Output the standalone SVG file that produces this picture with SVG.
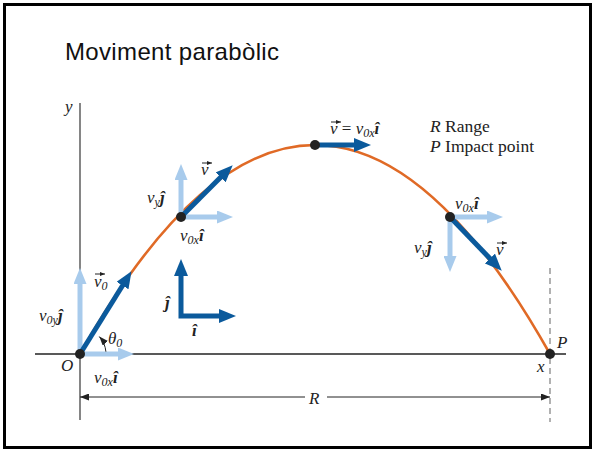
<svg xmlns="http://www.w3.org/2000/svg" width="595" height="451" viewBox="0 0 595 451">
<defs>
<style>
.m{font-family:"Liberation Serif","DejaVu Serif",serif;font-style:italic;font-size:17px;fill:#222}
.s{font-size:12px}
.u{font-style:italic;font-weight:bold}
.r{font-family:"Liberation Serif","DejaVu Serif",serif;font-size:17.5px;fill:#222}
.dk{stroke:#0b5a9c;stroke-width:5;fill:none}
.lt{stroke:#a8cbec;stroke-width:5;fill:none}
.dot{fill:#222}
.acc{stroke:#222;stroke-width:1;fill:none}
</style>
<marker id="hd" markerUnits="userSpaceOnUse" markerWidth="17" markerHeight="14" refX="6" refY="7" orient="auto-start-reverse"><path d="M0,0 L17,7 L0,14 z" fill="#0b5a9c"/></marker>
<marker id="hl" markerUnits="userSpaceOnUse" markerWidth="16" markerHeight="13" refX="6" refY="6.5" orient="auto"><path d="M0,0 L16,6.5 L0,13 z" fill="#a8cbec"/></marker>
<marker id="hb" markerUnits="userSpaceOnUse" markerWidth="9" markerHeight="7" refX="9" refY="3.5" orient="auto-start-reverse"><path d="M0,0 L9,3.5 L0,7 z" fill="#222"/></marker>
<marker id="hs" markerUnits="userSpaceOnUse" markerWidth="5" markerHeight="4" refX="5" refY="2" orient="auto"><path d="M0,0 L5,2 L0,4 z" fill="#222"/></marker>
</defs>
<rect x="4.5" y="4.5" width="586" height="443" fill="#fff" stroke="#000" stroke-width="3"/>
<text x="65" y="60" font-family="Liberation Sans, Arial, sans-serif" font-size="24" textLength="214" fill="#111">Moviment parabòlic</text>

<g id="axes">
<line x1="80" y1="103" x2="80" y2="420" stroke="#444" stroke-width="1.3"/>
<line x1="35" y1="354" x2="566" y2="354" stroke="#222" stroke-width="1.3"/>
<line x1="550" y1="268" x2="550" y2="422" stroke="#888" stroke-width="1.3" stroke-dasharray="6,4"/>
<text class="m" x="65" y="112">y</text>
<text class="m" x="537" y="372">x</text>
<text class="m" x="61" y="371">O</text>
<text class="m" x="557" y="348">P</text>
</g>

<g id="range">
<line x1="80" y1="397" x2="305" y2="397" stroke="#222" stroke-width="1" marker-start="url(#hb)"/>
<line x1="327" y1="397" x2="550" y2="397" stroke="#222" stroke-width="1" marker-end="url(#hb)"/>
<text class="m" x="309" y="404">R</text>
</g>

<g id="trajectory">
<path d="M80,354 Q315,-64 550,354" fill="none" stroke="#e06a26" stroke-width="2.6"/>
</g>

<g id="connectors">
<line class="lt" x1="80" y1="354" x2="80" y2="278" marker-end="url(#hl)"/>
<line class="lt" x1="80" y1="354" x2="124" y2="354" marker-end="url(#hl)"/>
<line class="lt" x1="181" y1="217" x2="181" y2="174" marker-end="url(#hl)"/>
<line class="lt" x1="181" y1="217" x2="223" y2="217" marker-end="url(#hl)"/>
<line class="lt" x1="450" y1="217" x2="493" y2="217" marker-end="url(#hl)"/>
<line class="lt" x1="450" y1="217" x2="450" y2="262" marker-end="url(#hl)"/>
<line class="dk" x1="80" y1="354" x2="125.7" y2="280.5" marker-end="url(#hd)"/>
<line class="dk" x1="181" y1="217" x2="224.9" y2="173.1" marker-end="url(#hd)"/>
<line class="dk" x1="315" y1="145" x2="360" y2="145" marker-end="url(#hd)"/>
<line class="dk" x1="450" y1="217" x2="494.1" y2="262.8" marker-end="url(#hd)"/>
<path d="M105.9,351.7 A26,26 0 0 0 99.3,336.6" fill="none" stroke="#222" stroke-width="1" marker-end="url(#hb)"/>
</g>

<g id="p0">
<circle class="dot" cx="80" cy="354" r="5"/>
<line class="acc" x1="95" y1="274" x2="105" y2="274" marker-end="url(#hs)"/>
<text class="m" x="94" y="287">v<tspan class="s" dy="3">0</tspan></text>
<text class="m" x="39" y="321">v<tspan class="s" dy="3">0y</tspan><tspan class="u" dy="-3">ĵ</tspan></text>
<text class="m" x="108" y="344">θ<tspan class="s" dy="3">0</tspan></text>
<text class="m" x="94" y="383">v<tspan class="s" dy="3">0x</tspan><tspan class="u" dy="-3">î</tspan></text>
</g>

<g id="p1">
<circle class="dot" cx="181" cy="217" r="5"/>
<line class="acc" x1="202" y1="163" x2="212" y2="163" marker-end="url(#hs)"/>
<text class="m" x="201" y="175">v</text>
<text class="m" x="147" y="203">v<tspan class="s" dy="3">y</tspan><tspan class="u" dy="-3">ĵ</tspan></text>
<text class="m" x="180" y="241">v<tspan class="s" dy="3">0x</tspan><tspan class="u" dy="-3">î</tspan></text>
</g>

<g id="apex">
<circle class="dot" cx="315" cy="145" r="5"/>
<line class="acc" x1="331" y1="122" x2="341" y2="122" marker-end="url(#hs)"/>
<text class="m" x="330" y="134">v<tspan font-style="normal"> = </tspan>v<tspan class="s" dy="3">0x</tspan><tspan class="u" dy="-3">î</tspan></text>
</g>

<g id="p3">
<circle class="dot" cx="450" cy="217" r="5"/>
<text class="m" x="455" y="209">v<tspan class="s" dy="3">0x</tspan><tspan class="u" dy="-3">î</tspan></text>
<text class="m" x="414" y="253">v<tspan class="s" dy="3">y</tspan><tspan class="u" dy="-3">ĵ</tspan></text>
<line class="acc" x1="497" y1="243" x2="507" y2="243" marker-end="url(#hs)"/>
<text class="m" x="496" y="255">v</text>
</g>

<g id="impact">
<circle class="dot" cx="550" cy="354" r="5"/>
</g>

<g id="units">
<path class="dk" d="M181,270 L181,316 L225,316" stroke-linejoin="miter" marker-start="url(#hd)" marker-end="url(#hd)"/>
<text class="m u" x="165" y="308">ĵ</text>
<text class="m u" x="192" y="336">î</text>
</g>

<g id="legend">
<text class="r" x="430" y="132"><tspan font-style="italic">R</tspan> Range</text>
<text class="r" x="430" y="152"><tspan font-style="italic">P</tspan> Impact point</text>
</g>
</svg>
